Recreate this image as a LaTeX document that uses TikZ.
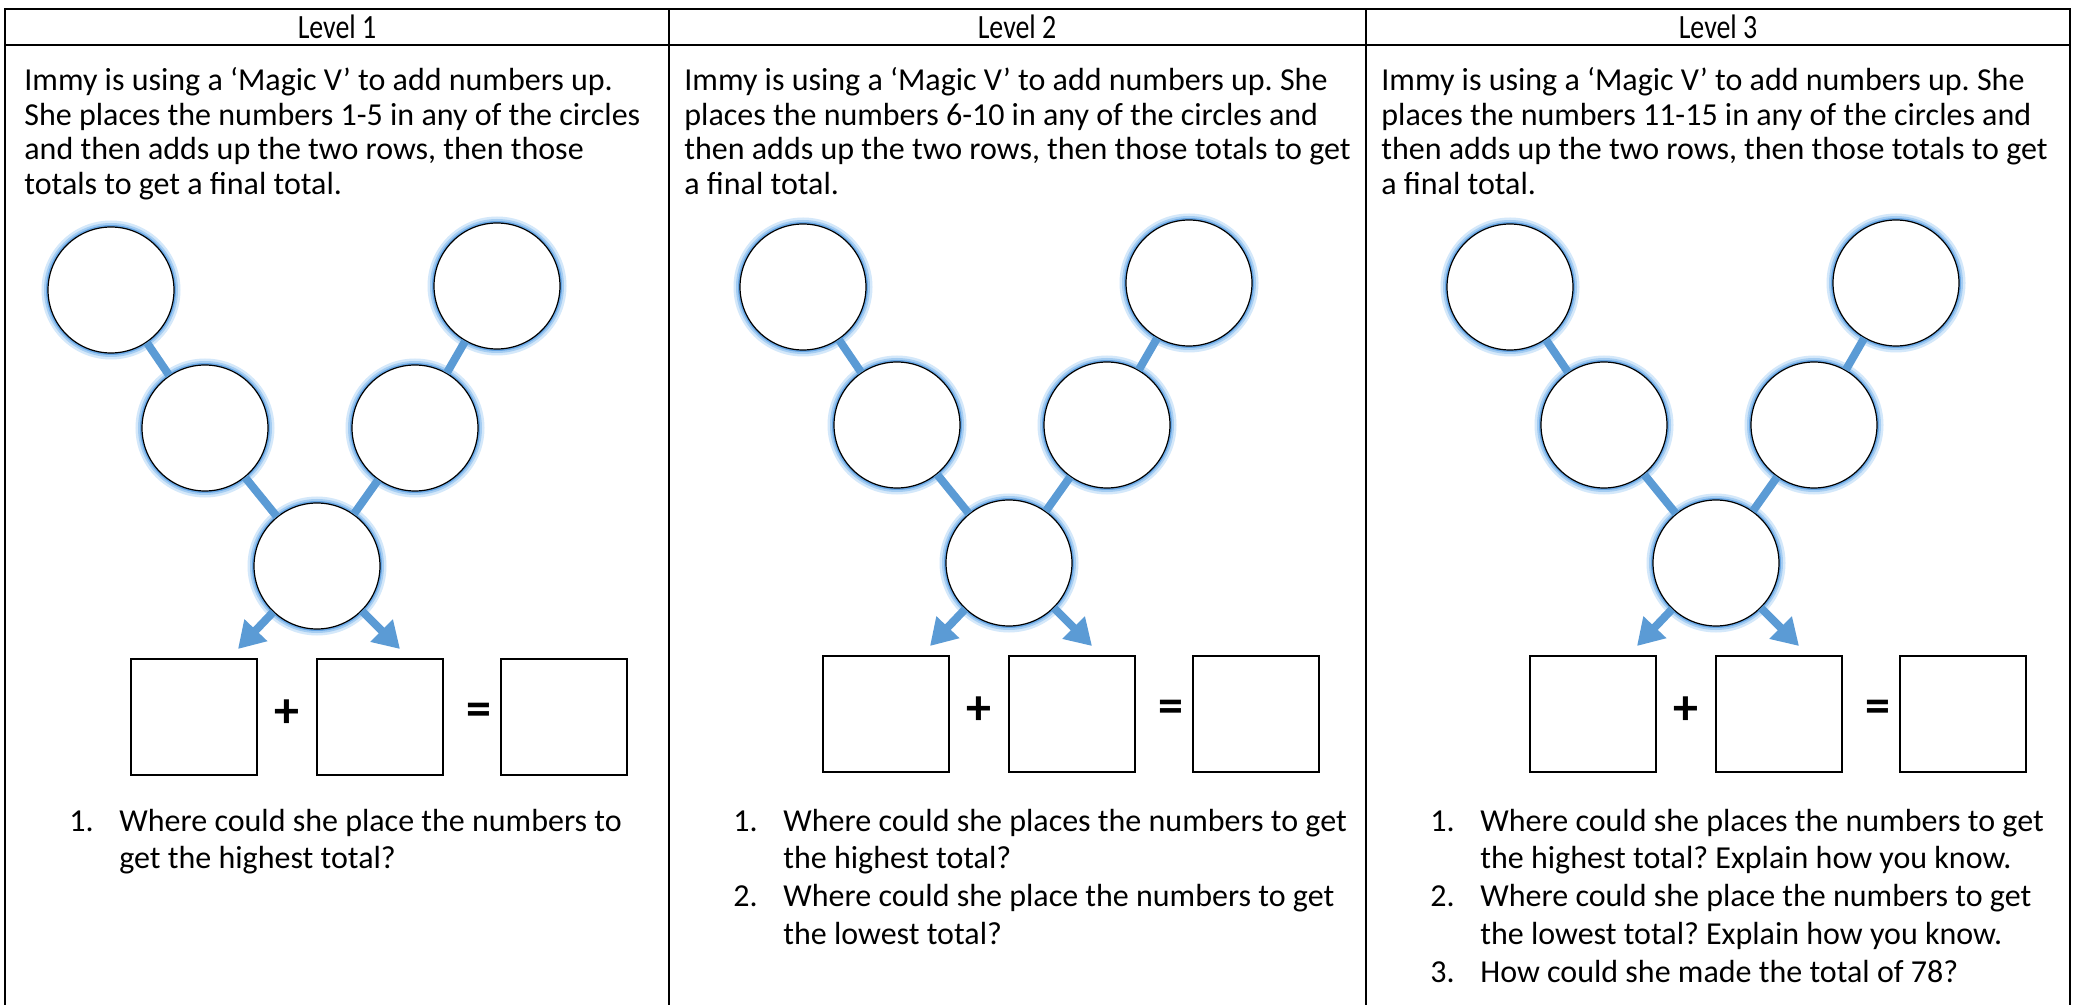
\documentclass[tikz,border=0pt]{standalone}
\usepackage{fontspec}
\setmainfont{Carlito}
\usetikzlibrary{arrows.meta}
\definecolor{vblue}{RGB}{91,155,213}
\definecolor{glowA}{RGB}{212,232,250}
\definecolor{glowM}{RGB}{165,205,242}
\definecolor{glowB}{RGB}{105,168,230}
\frenchspacing
\begin{document}
\begin{tikzpicture}[x=0.5pt,y=-0.5pt,
  tbl/.style={line width=1pt, black},
  hd/.style={font=\fontsize{17}{19}\selectfont, inner sep=0pt},
  body/.style={font=\fontsize{16}{17}\selectfont, inner sep=0pt, anchor=base west},
  vcirc/.style={circle, draw=black, line width=0.6pt, fill=white, minimum size=63pt, inner sep=0pt,
     preaction={draw=glowA, line width=6.5pt}, preaction={draw=glowM, line width=4pt},
     preaction={draw=glowB, line width=2pt}},
  link/.style={draw=vblue, line width=4pt},
  varrow/.style={draw=vblue, line width=4pt, -{Triangle[width=15pt,length=13pt]}},
  ansbox/.style={draw=black, line width=0.9pt, minimum width=63pt, minimum height=58pt, inner sep=0pt},
  op/.style={font=\fontsize{25}{27}\selectfont\bfseries, inner sep=0pt}
]
\useasboundingbox (0,0) rectangle (2074,1005);
\fill[white] (0,0) rectangle (2074,1005);

% table
\draw[tbl] (5,1005) -- (5,9) -- (2070,9) -- (2070,1005);
\draw[tbl] (5,45) -- (2070,45);
\draw[tbl] (669,9) -- (669,1005);
\draw[tbl] (1366,9) -- (1366,1005);

% headers
\node[hd] (h1) at (337,27) {\scalebox{0.82}[1]{Level 1}};
\node[hd] (h2) at (1017,27) {\scalebox{0.82}[1]{Level 2}};
\node[hd] (h3) at (1718,27) {\scalebox{0.82}[1]{Level 3}};

% intro texts
\node[body] (a1) at (24,91) {Immy is using a ‘Magic V’ to add numbers up.};
\node[body] (a2) at (24,125.4) {She places the numbers 1-5 in any of the circles};
\node[body] (a3) at (24,159.8) {and then adds up the two rows, then those};
\node[body] (a4) at (24,194.2) {totals to get a final total.};

\node[body] (b1) at (684,91) {Immy is using a ‘Magic V’ to add numbers up. She};
\node[body] (b2) at (684,125.4) {places the numbers 6-10 in any of the circles and};
\node[body] (b3) at (684,159.8) {then adds up the two rows, then those totals to get};
\node[body] (b4) at (684,194.2) {a final total.};

\node[body] (c1) at (1381,91) {Immy is using a ‘Magic V’ to add numbers up. She};
\node[body] (c2) at (1381,125.4) {places the numbers 11-15 in any of the circles and};
\node[body] (c3) at (1381,159.8) {then adds up the two rows, then those totals to get};
\node[body] (c4) at (1381,194.2) {a final total.};

% diagrams
\foreach \n/\dx/\dy in {a/0/0, b/692/-3, c/1399/-3} {
  \begin{scope}[shift={(\dx,\dy)}]
    \node[vcirc] (tl\n) at (111,290) {};
    \node[vcirc] (tr\n) at (497,286) {};
    \node[vcirc] (ml\n) at (205,428) {};
    \node[vcirc] (mr\n) at (415,428) {};
    \node[vcirc] (bt\n) at (317,566) {};
    \draw[link] (tl\n) -- (ml\n);
    \draw[link] (ml\n) -- (bt\n);
    \draw[link] (tr\n) -- (mr\n);
    \draw[link] (mr\n) -- (bt\n);
    \coordinate (la\n) at (238,649);
    \coordinate (ra\n) at (400,649);
    \draw[varrow] (bt\n) -- (la\n);
    \draw[varrow] (bt\n) -- (ra\n);
    \node[ansbox] (bxa\n) at (194,717) {};
    \node[op] (plus\n) at (287,714) {+};
    \node[ansbox] (bxb\n) at (380,717) {};
    \node[op] (eq\n) at (479,714) {=};
    \node[ansbox] (bxc\n) at (564,717) {};
  \end{scope}
}

% questions
\node[body] (qa1n) at (69,831) {1.};
\node[body] (qa1) at (119,831) {Where could she place the numbers to};
\node[body] (qa1b) at (119,868.9) {get the highest total?};

\node[body] (qb1n) at (733,831) {1.};
\node[body] (qb1) at (783,831) {Where could she places the numbers to get};
\node[body] (qb1b) at (783,868.9) {the highest total?};
\node[body] (qb2n) at (733,906.8) {2.};
\node[body] (qb2) at (783,906.8) {Where could she place the numbers to get};
\node[body] (qb2b) at (783,944.7) {the lowest total?};

\node[body] (qc1n) at (1430,831) {1.};
\node[body] (qc1) at (1480,831) {Where could she places the numbers to get};
\node[body] (qc1b) at (1480,868.9) {the highest total? Explain how you know.};
\node[body] (qc2n) at (1430,906.8) {2.};
\node[body] (qc2) at (1480,906.8) {Where could she place the numbers to get};
\node[body] (qc2b) at (1480,944.7) {the lowest total? Explain how you know.};
\node[body] (qc3n) at (1430,982.6) {3.};
\node[body] (qc3) at (1480,982.6) {How could she made the total of 78?};
\end{tikzpicture}
\end{document}
